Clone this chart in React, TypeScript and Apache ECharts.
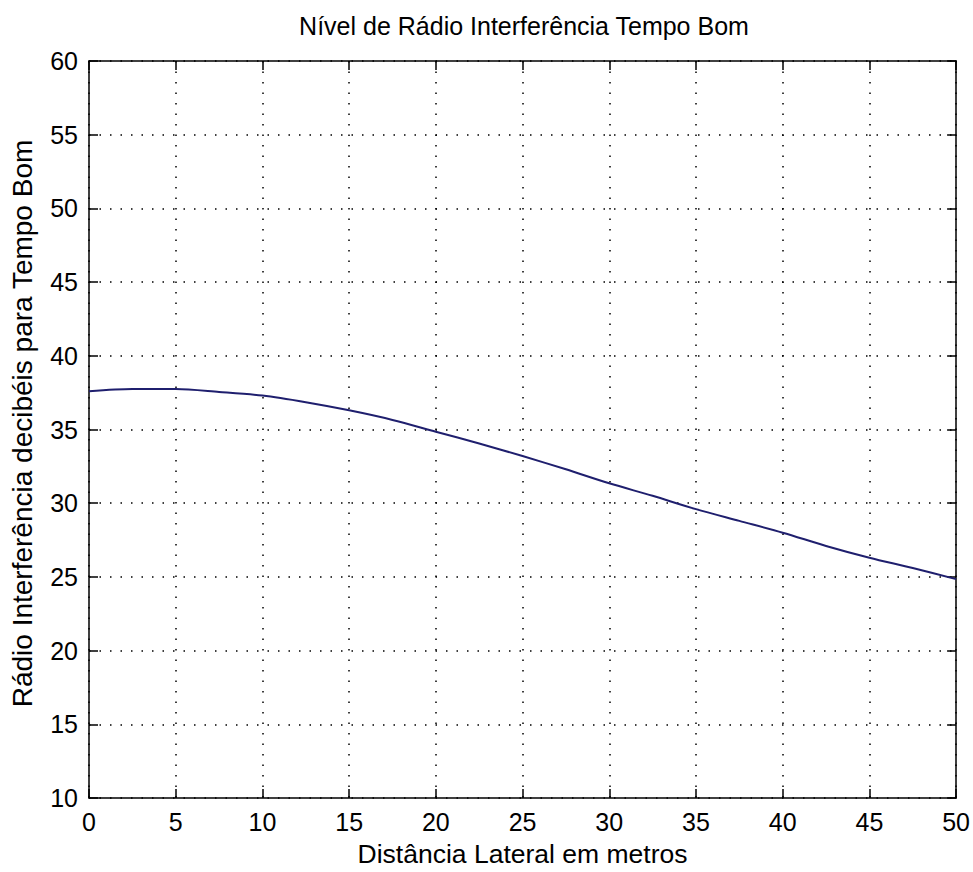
import React, { useEffect, useRef } from "react";
import * as echarts from "echarts";

// Lateral distance from the line (m) and fair-weather radio interference level (dB)
const distances = [0, 2.5, 5, 7.5, 10, 12.5, 15, 17.5, 20, 22.5, 25, 27.5, 30, 32.5, 35, 37.5, 40, 42.5, 45, 47.5, 50];
const riLevels = [37.6, 37.75, 37.75, 37.55, 37.3, 36.85, 36.3, 35.65, 34.85, 34.05, 33.2, 32.3, 31.35, 30.5, 29.6, 28.8, 28.0, 27.1, 26.3, 25.6, 24.85];

const xTicks = [0, 5, 10, 15, 20, 25, 30, 35, 40, 45, 50];
const yTicks = [10, 15, 20, 25, 30, 35, 40, 45, 50, 55, 60];

const titleText = "Nível de Rádio Interferência Tempo Bom";
const xName = "Distância Lateral em metros";
const yName = "Rádio Interferência decibéis para Tempo Bom";

const FONT = "'Liberation Sans', Arial, sans-serif";

export default function App() {
  const ref = useRef<HTMLDivElement>(null);

  useEffect(() => {
    if (!ref.current) return;
    const chart = echarts.init(ref.current, null, { renderer: "svg" });

    const xMin = xTicks[0];
    const xMax = xTicks[xTicks.length - 1];
    const xStep = xTicks[1] - xTicks[0];
    const yMin = yTicks[0];
    const yMax = yTicks[yTicks.length - 1];
    const yStep = yTicks[1] - yTicks[0];

    const frameLine = { show: true, onZero: false, lineStyle: { color: "#000", width: 1.5 } };
    const innerTick = { show: true, inside: true, length: 9, lineStyle: { color: "#000", width: 1.5 } };
    const dotted = { show: true, lineStyle: { color: "#000", width: 1.5, type: [1.5, 9] as number[] } };
    const label = { color: "#000", fontFamily: FONT, fontSize: 25 };

    chart.setOption({
      animation: false,
      backgroundColor: "#fff",
      title: {
        text: titleText,
        left: 519,
        textAlign: "center",
        top: 8,
        textStyle: { color: "#000", fontFamily: FONT, fontSize: 25, fontWeight: "normal" },
      },
      grid: { left: 89, right: 16, top: 61, bottom: 71, containLabel: false },
      xAxis: [
        {
          type: "value",
          position: "bottom",
          min: xMin,
          max: xMax,
          interval: xStep,
          axisLine: frameLine,
          axisTick: innerTick,
          splitLine: dotted,
          axisLabel: { ...label, margin: 11 },
          name: xName,
          nameLocation: "middle",
          nameGap: 42,
          nameTextStyle: { color: "#000", fontFamily: FONT, fontSize: 26.5 },
        },
        {
          type: "value",
          position: "top",
          min: xMin,
          max: xMax,
          interval: xStep,
          axisLine: frameLine,
          axisTick: innerTick,
          splitLine: { show: false },
          axisLabel: { show: false },
        },
      ],
      yAxis: [
        {
          type: "value",
          position: "left",
          min: yMin,
          max: yMax,
          interval: yStep,
          axisLine: frameLine,
          axisTick: innerTick,
          splitLine: dotted,
          axisLabel: { ...label, margin: 11 },
          name: yName,
          nameLocation: "middle",
          nameGap: 53,
          nameRotate: 90,
          nameTextStyle: { color: "#000", fontFamily: FONT, fontSize: 28, padding: [0, 0, 0, 12] },
        },
        {
          type: "value",
          position: "right",
          min: yMin,
          max: yMax,
          interval: yStep,
          axisLine: frameLine,
          axisTick: innerTick,
          splitLine: { show: false },
          axisLabel: { show: false },
        },
      ],
      series: [
        {
          type: "line",
          xAxisIndex: 0,
          yAxisIndex: 0,
          data: distances.map((d, i) => [d, riLevels[i]]),
          showSymbol: false,
          smooth: 0.3,
          lineStyle: { color: "#1f1f6e", width: 2 },
        },
      ],
    });

    return () => chart.dispose();
  }, []);

  return <div ref={ref} style={{ width: 973, height: 872, position: "absolute", left: 0, top: 0 }} />;
}
